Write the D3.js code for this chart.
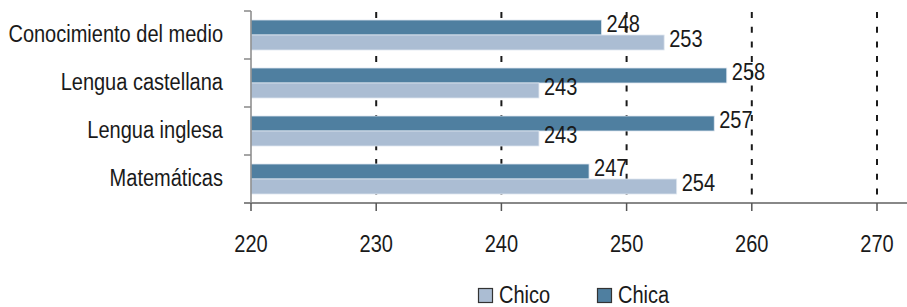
<!DOCTYPE html>
<html lang="en">

<head>
    <meta charset="UTF-8">
    <title>Resultados por materia</title>

    <script src="https://d3js.org/d3.v7.min.js"></script>

    <style>
        body {
            margin: 0;
            background: #fff;
        }

        text {
            font-family: "Liberation Sans", Arial, sans-serif;
            font-size: 23px;
            fill: #1a1a1a;
        }
    </style>

</head>

<body>
    <svg width="907" height="307"></svg>

    <script>
        const categories = ["Conocimiento del medio", "Lengua castellana", "Lengua inglesa", "Matemáticas"];
        const chicaValues = [248, 258, 257, 247];
        const chicoValues = [253, 243, 243, 254];
        const tickValues = [220, 230, 240, 250, 260, 270];
        const seriesNames = ["Chica", "Chico"];
        const seriesColors = { "Chica": "#4f7fa0", "Chico": "#abbdd3" };

        let svg = d3.select("svg");

        const plotLeft = 251, plotRight = 907, plotTop = 11, plotBottom = 203;
        const squeeze = 0.87;   // condensed look

        // place text at (fx, fy) and squeeze it horizontally
        function placeText(sel, fx, fy) {
            sel.attr("transform", (d, i) =>
                `translate(${fx(d, i)},${fy(d, i)}) scale(${squeeze},1)`);
        }

        let x = d3.scaleLinear()
            .domain([220, 220 + (plotRight - plotLeft) / 12.52])
            .range([plotLeft, plotRight]);

        let y = d3.scaleBand()
            .domain(categories)
            .range([plotTop, plotBottom]);

        let ySub = d3.scaleBand()
            .domain(seriesNames)
            .range([0, y.bandwidth()])
            .paddingOuter(0.6);

        // dashed grid lines, behind the bars
        svg.append("g")
            .selectAll("line")
            .data(tickValues.slice(1))
            .enter()
            .append("line")
            .attr("x1", d => x(d))
            .attr("x2", d => x(d))
            .attr("y1", plotTop + 1)
            .attr("y2", plotBottom)
            .attr("stroke", "#1a1a1a")
            .attr("stroke-width", 2)
            .attr("stroke-dasharray", "6,8.7");

        let rows = categories.map((c, i) => ({
            cat: c,
            vals: [
                { s: "Chica", v: chicaValues[i] },
                { s: "Chico", v: chicoValues[i] }
            ]
        }));

        let groups = svg.append("g")
            .selectAll("g")
            .data(rows)
            .enter()
            .append("g")
            .attr("transform", d => `translate(0,${y(d.cat)})`);

        groups.selectAll("rect")
            .data(d => d.vals)
            .enter()
            .append("rect")
            .attr("x", x(220))
            .attr("y", d => ySub(d.s))
            .attr("width", d => x(d.v) - x(220))
            .attr("height", ySub.bandwidth())
            .attr("fill", d => seriesColors[d.s])
            .attr("stroke", "#dfe7ef")
            .attr("stroke-width", 0.8);

        groups.selectAll("text")
            .data(d => d.vals)
            .enter()
            .append("text")
            .attr("dy", "0.35em")
            .text(d => d.v)
            .call(placeText, d => x(d.v) + 5,
                d => ySub(d.s) + ySub.bandwidth() / 2 - 3.5);

        // y axis
        let yAxis = svg.append("g");
        yAxis.append("line")
            .attr("x1", plotLeft).attr("x2", plotLeft)
            .attr("y1", plotTop).attr("y2", plotBottom)
            .attr("stroke", "#888").attr("stroke-width", 1.5);
        yAxis.selectAll("line.tick")
            .data(d3.range(categories.length + 1))
            .enter()
            .append("line")
            .attr("class", "tick")
            .attr("x1", plotLeft - 7).attr("x2", plotLeft)
            .attr("y1", i => plotTop + i * y.step())
            .attr("y2", i => plotTop + i * y.step())
            .attr("stroke", "#888").attr("stroke-width", 1.5);
        yAxis.selectAll("text")
            .data(categories)
            .enter()
            .append("text")
            .attr("dy", "0.35em")
            .attr("text-anchor", "end")
            .text(d => d)
            .call(placeText, () => 223, d => y(d) + y.bandwidth() / 2 - 1);

        // x axis
        let xAxis = svg.append("g");
        xAxis.append("line")
            .attr("x1", plotLeft - 7).attr("x2", plotRight)
            .attr("y1", plotBottom).attr("y2", plotBottom)
            .attr("stroke", "#888").attr("stroke-width", 2);
        xAxis.selectAll("line.tick")
            .data(tickValues)
            .enter()
            .append("line")
            .attr("class", "tick")
            .attr("x1", d => x(d)).attr("x2", d => x(d))
            .attr("y1", plotBottom).attr("y2", plotBottom + 8)
            .attr("stroke", "#555").attr("stroke-width", 1.5);
        xAxis.selectAll("text")
            .data(tickValues)
            .enter()
            .append("text")
            .attr("text-anchor", "middle")
            .text(d => d)
            .call(placeText, d => x(d), () => 252);

        // legend
        const legendItems = [
            { s: "Chico", x: 478 },
            { s: "Chica", x: 597 }
        ];
        let legend = svg.append("g")
            .selectAll("g")
            .data(legendItems)
            .enter()
            .append("g")
            .attr("transform", d => `translate(${d.x},288)`);
        legend.append("rect")
            .attr("x", 0.5).attr("y", 0.5)
            .attr("width", 14).attr("height", 14)
            .attr("fill", d => seriesColors[d.s])
            .attr("stroke", "#333").attr("stroke-width", 1.2);
        legend.append("text")
            .text(d => d.s)
            .call(placeText, () => 21, () => 14.5);
    </script>
</body>

</html>
